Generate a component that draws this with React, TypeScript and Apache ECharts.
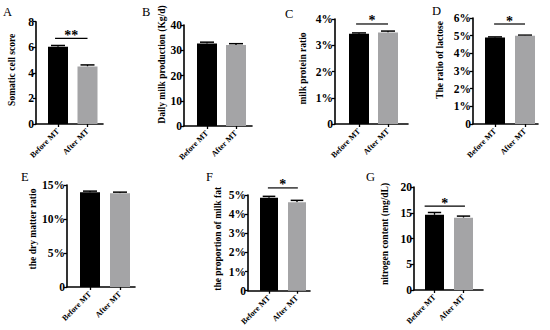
import React, { useEffect, useRef } from "react";
import * as echarts from "echarts";

const CATEGORIES = ["Before MT", "After MT"];
const PANEL_LETTERS = ["A", "B", "C", "D", "E", "F", "G"];
const Y_TITLES = [
  "Somatic cell score",
  "Daily milk production (Kg/d)",
  "milk protein ratio",
  "The ratio of lactose",
  "the dry matter ratio",
  "the proportion of milk fat",
  "nitrogen content (mg/dL)",
];
const BEFORE_MEANS = [6.04, 32.7, 3.44, 4.9, 13.95, 4.85, 14.6];
const AFTER_MEANS = [4.5, 32.1, 3.49, 5.0, 13.8, 4.62, 14.05];
const BEFORE_ERR = [0.1, 0.5, 0.03, 0.03, 0.15, 0.08, 0.45];
const AFTER_ERR = [0.12, 0.5, 0.05, 0.03, 0.15, 0.1, 0.3];
const Y_MAX = [8, 40, 4, 6, 15, 5, 20];
const Y_INTERVAL = [2, 10, 1, 1, 5, 1, 5];
const PERCENT = [false, false, true, true, true, true, false];
const SIG_LABEL = ["**", "", "*", "*", "", "*", "*"];
const SIG_Y = [6.7, null, 3.81, 5.66, null, 5.37, 16.3];

// layout (pixels)
const GRID_LEFT = [36, 184, 335, 473, 67, 248, 414];
const GRID_RIGHT = [103, 252, 408, 538, 135, 310, 483];
const GRID_TOP = [21.7, 25, 19, 18, 185, 195, 187];
const GRID_BOTTOM = [124, 126, 124, 124, 287, 290.7, 290];
const BAR_C1 = [58, 207, 359, 495, 90, 269, 434.5];
const BAR_C2 = [87.5, 236, 388, 525, 120, 297, 463.5];
const BAR_W = [20, 20, 20, 20, 20, 18, 19];
const NAME_GAP = [19, 17, 27, 28, 26, 25, 24];
const NAME_SHIFT = [3, 11, 3, 11, 7, 4, 4.5];
const SIG_X = [
  [0.9, 2.0],
  [1, 2],
  [0.9, 2.0],
  [0.97, 2.0],
  [1, 2],
  [0.96, 2.03],
  [0.66, 2.05],
];
const LETTER_POS = [
  [3, 5],
  [142, 5],
  [285, 7],
  [432, 4],
  [21, 170],
  [206, 170],
  [366, 170],
];

const SERIF = "'Liberation Serif', 'Times New Roman', serif";

export default function App() {
  const ref = useRef<HTMLDivElement>(null);
  useEffect(() => {
    if (!ref.current) return;
    const chart = echarts.init(ref.current, null, { renderer: "svg" });
    const grid: any[] = [];
    const xAxis: any[] = [];
    const yAxis: any[] = [];
    const series: any[] = [];
    for (let i = 0; i < 7; i++) {
      const s = BAR_C2[i] - BAR_C1[i];
      const xmin = 1 - (BAR_C1[i] - GRID_LEFT[i]) / s;
      const xmax = 2 + (GRID_RIGHT[i] - BAR_C2[i]) / s;
      grid.push({
        left: GRID_LEFT[i],
        top: GRID_TOP[i],
        width: GRID_RIGHT[i] - GRID_LEFT[i],
        height: GRID_BOTTOM[i] - GRID_TOP[i],
        containLabel: false,
      });
      xAxis.push({
        type: "value",
        gridIndex: i,
        min: xmin,
        max: xmax,
        splitLine: { show: false },
        axisLine: { show: true, onZero: false, lineStyle: { color: "#000", width: 1.6 } },
        axisTick: {
          show: true,
          customValues: [1, 2],
          length: 3,
          lineStyle: { color: "#000", width: 1.3 },
        },
        axisLabel: {
          customValues: [1, 2],
          formatter: (v: number) => CATEGORIES[Math.round(v) - 1] ?? "",
          rotate: 45,
          margin: 6,
          fontFamily: SERIF,
          fontWeight: "bold",
          fontSize: 8,
          color: "#000",
        },
      });
      yAxis.push({
        type: "value",
        gridIndex: i,
        min: 0,
        max: Y_MAX[i],
        interval: Y_INTERVAL[i],
        name: Y_TITLES[i],
        nameLocation: "middle",
        nameGap: NAME_GAP[i],
        nameTextStyle: {
          fontFamily: SERIF,
          fontWeight: "bold",
          fontSize: 9.5,
          color: "#000",
          padding: [0, 0, 0, NAME_SHIFT[i] * 2],
        },
        splitLine: { show: false },
        axisLine: { show: true, lineStyle: { color: "#000", width: 1.6 } },
        axisTick: { show: true, length: 3, lineStyle: { color: "#000", width: 1.3 } },
        axisLabel: {
          margin: 2,
          fontFamily: SERIF,
          fontWeight: "bold",
          fontSize: 11.5,
          color: "#000",
          formatter: (v: number) => (PERCENT[i] && v !== 0 ? v + "%" : String(v)),
        },
      });
      series.push({
        type: "bar",
        xAxisIndex: i,
        yAxisIndex: i,
        barWidth: BAR_W[i],
        data: [
          { value: [1, BEFORE_MEANS[i]], itemStyle: { color: "#000" } },
          { value: [2, AFTER_MEANS[i]], itemStyle: { color: "#a4a4a6" } },
        ],
      });
      series.push({
        type: "custom",
        xAxisIndex: i,
        yAxisIndex: i,
        clip: false,
        itemStyle: { color: "#000" },
        data: [
          [1, BEFORE_MEANS[i], BEFORE_ERR[i]],
          [2, AFTER_MEANS[i], AFTER_ERR[i]],
        ],
        renderItem: (params: any, api: any) => {
          const x = api.value(0);
          const m = api.value(1);
          const e = api.value(2);
          const base = api.coord([x, m]);
          const top = api.coord([x, m + e]);
          const hw = BAR_W[i] * 0.35;
          return {
            type: "group",
            children: [
              {
                type: "line",
                shape: { x1: base[0], y1: base[1], x2: top[0], y2: top[1] },
                style: { stroke: "#000", lineWidth: 1.3 },
              },
              {
                type: "line",
                shape: { x1: top[0] - hw, y1: top[1], x2: top[0] + hw, y2: top[1] },
                style: { stroke: "#000", lineWidth: 1.5 },
              },
            ],
          };
        },
      });
      if (SIG_Y[i] !== null) {
        series.push({
          type: "custom",
          xAxisIndex: i,
          yAxisIndex: i,
          clip: false,
          itemStyle: { color: "#000" },
          data: [[SIG_X[i][0], SIG_X[i][1], SIG_Y[i]]],
          renderItem: (params: any, api: any) => {
            const p0 = api.coord([api.value(0), api.value(2)]);
            const p1 = api.coord([api.value(1), api.value(2)]);
            return {
              type: "group",
              children: [
                {
                  type: "line",
                  shape: { x1: p0[0], y1: p0[1], x2: p1[0], y2: p1[1] },
                  style: { stroke: "#000", lineWidth: 1.2 },
                },
                {
                  type: "text",
                  x: (p0[0] + p1[0]) / 2,
                  y: p0[1] + 4,
                  style: {
                    text: SIG_LABEL[i],
                    align: "center",
                    verticalAlign: "bottom",
                    fontFamily: SERIF,
                    fontWeight: "bold",
                    fontSize: 14,
                    fill: "#000",
                  },
                },
              ],
            };
          },
        });
      }
    }
    const graphic = PANEL_LETTERS.map((t, i) => ({
      type: "text",
      left: LETTER_POS[i][0],
      top: LETTER_POS[i][1],
      style: { text: t, fontFamily: SERIF, fontSize: 12.5, fill: "#000" },
    }));
    chart.setOption({
      animation: false,
      backgroundColor: "#fff",
      grid,
      xAxis,
      yAxis,
      series,
      graphic,
    });
    return () => chart.dispose();
  }, []);
  return (
    <div
      ref={ref}
      style={{ position: "fixed", left: 0, top: 0, width: 550, height: 330 }}
    />
  );
}
